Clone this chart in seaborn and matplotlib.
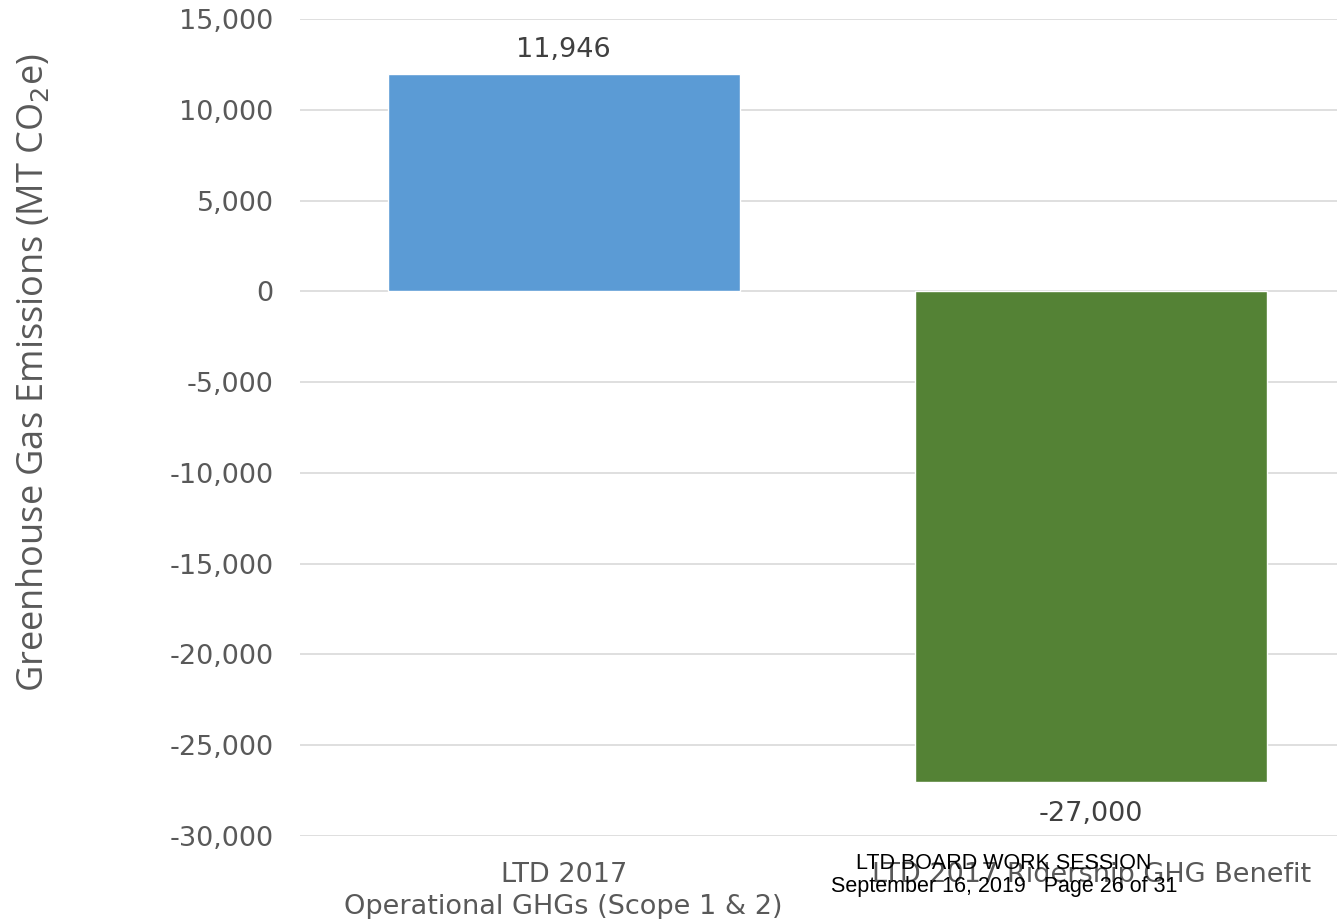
import matplotlib
matplotlib.use("Agg")
import matplotlib.pyplot as plt
import seaborn as sns
import pandas as pd

categories = ["LTD 2017\nOperational GHGs (Scope 1 & 2)", "LTD 2017 Ridership GHG Benefit"]
values = [11946, -27000]
value_labels = ["11,946", "-27,000"]
colors = ["#5B9BD5", "#548235"]
yticks = [15000, 10000, 5000, 0, -5000, -10000, -15000, -20000, -25000, -30000]

sns.set_theme(style="white")
plt.rcParams['font.family'] = ['DejaVu Sans']

fig = plt.figure(figsize=(13.37, 9.19), dpi=100)
ax = fig.add_axes([300/1337, 83/919, 1055/1337, 817/919])

df = pd.DataFrame({"cat": categories, "val": values})
sns.barplot(data=df, x="cat", y="val", hue="cat", palette=colors, width=0.667,
            legend=False, ax=ax, saturation=1)

ax.set_ylim(-30000, 15000)
ax.set_xlim(-0.5, 1.5)
ax.set_yticks(yticks)
ax.set_yticklabels([f"{v:,}" for v in yticks], fontsize=19.5, color="#595959")
ax.set_xticks([0, 1])
ax.set_xticklabels(categories, fontsize=19.5, color="#595959", linespacing=1.32)
ax.tick_params(axis="y", length=0, pad=19)
ax.tick_params(axis="x", length=0, pad=18.5)
ax.yaxis.grid(True, color="#D9D9D9", lw=1.2)
ax.set_axisbelow(True)
for s in ax.spines.values():
    s.set_visible(False)
ax.set_xlabel("")
ax.set_ylabel("Greenhouse Gas Emissions (MT CO$_2$e)", fontsize=26, color="#595959",
              family="Open Sans")
ax.yaxis.set_label_coords((52 - 300) / 1055, 0.567)

for i, (v, lab) in enumerate(zip(values, value_labels)):
    off = 1350 if v > 0 else -1800
    ax.text(i, v + off, lab, ha="center", va="center",
            fontsize=19.5, color="#404040")

fig.text(1004/1337, 1 - 875/919, "LTD BOARD WORK SESSION\nSeptember 16, 2019   Page 26 of 31",
         ha="center", va="center", fontsize=15.5, color="black",
         family="Liberation Sans", linespacing=1.12)

fig.savefig("out.png", dpi=100)
